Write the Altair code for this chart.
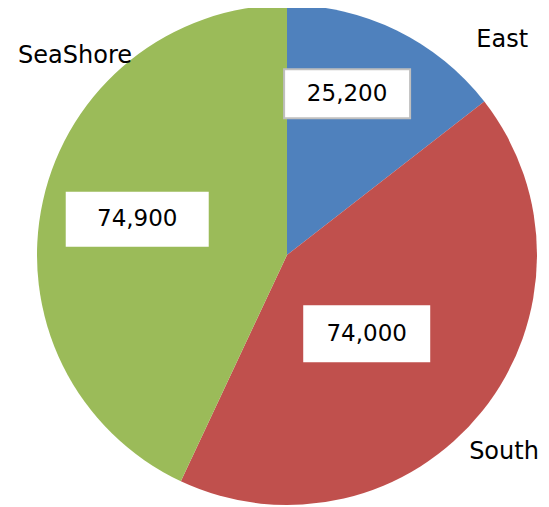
import math
import altair as alt
import pandas as pd

# ---- data ----
regions = ["East", "South", "SeaShore"]
sales = [25200, 74000, 74900]
colors = ["#4F81BD", "#C0504D", "#9BBB59"]

# ---- layout (pixels) ----
W, H = 533, 498
CX, CY, R = 279, 247, 250
value_angle_shift = [-5.6, 6.0, 0.9]
value_radius = [172, 112, 154]
box_w = [126, 125, 141]
box_h = [49, 55, 53]
box_stroke = ["#BFBFBF", "#FFFFFF", "#FFFFFF"]
name_angle_shift = [19.0, 3.6, 30.7]
name_radius = [304, 293, 291]

total = sum(sales)
rows = []
start = 0.0
for i, (name, v) in enumerate(zip(regions, sales)):
    span = v / total * 360.0
    mid = start + span / 2.0
    start += span
    a = math.radians(mid + value_angle_shift[i])
    bx = CX + value_radius[i] * math.sin(a)
    by = CY - value_radius[i] * math.cos(a)
    a2 = math.radians(mid + name_angle_shift[i])
    nx = CX + name_radius[i] * math.sin(a2)
    ny = CY - name_radius[i] * math.cos(a2)
    rows.append(dict(region=name, sales=v, order=i, label=f"{v:,}",
                     bx=bx, by=by,
                     bx0=bx - box_w[i] / 2, bx1=bx + box_w[i] / 2,
                     by0=by - box_h[i] / 2, by1=by + box_h[i] / 2,
                     nx=nx, ny=ny, stroke=box_stroke[i]))
df = pd.DataFrame(rows)

xs = alt.Scale(domain=[0, W], range=[0, W])
ys = alt.Scale(domain=[0, H], range=[0, H])

base = alt.Chart(df)

pie = base.mark_arc(outerRadius=R).encode(
    theta=alt.Theta("sales:Q", stack=True),
    color=alt.Color("region:N", scale=alt.Scale(domain=regions, range=colors), legend=None),
    order=alt.Order("order:Q"),
    x=alt.value(CX),
    y=alt.value(CY),
)

boxes = base.mark_rect(fill="white", strokeWidth=2).encode(
    x=alt.X("bx0:Q", scale=xs, axis=None),
    x2="bx1:Q",
    y=alt.Y("by0:Q", scale=ys, axis=None),
    y2="by1:Q",
    stroke=alt.Stroke("stroke:N", scale=None),
)

values = base.mark_text(font="DejaVu Sans", fontSize=23, color="black").encode(
    x=alt.X("bx:Q", scale=xs, axis=None),
    y=alt.Y("by:Q", scale=ys, axis=None),
    text="label:N",
)

names = base.mark_text(font="DejaVu Sans", fontSize=24, color="black").encode(
    x=alt.X("nx:Q", scale=xs, axis=None),
    y=alt.Y("ny:Q", scale=ys, axis=None),
    text="region:N",
)

chart = alt.layer(pie, boxes, values, names).properties(
    width=W, height=H, padding=0,
    autosize=alt.AutoSizeParams(type="none"),
    background="white",
).configure_view(stroke=None)

chart.save("out.html", embed_options={"renderer": "svg", "actions": False})
